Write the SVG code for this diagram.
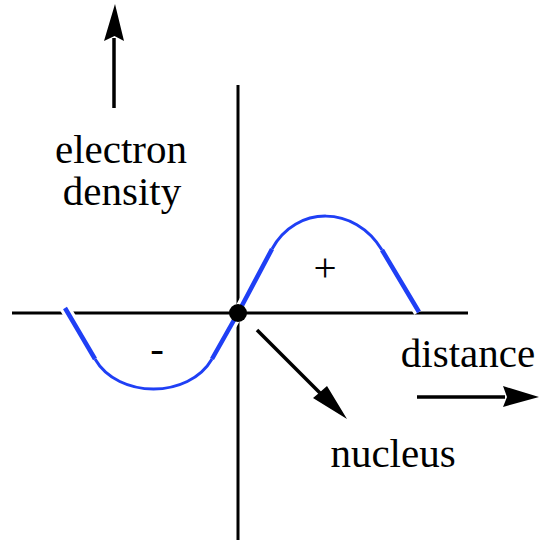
<svg xmlns="http://www.w3.org/2000/svg" width="541" height="543" viewBox="0 0 541 543">
<style>
.ax{stroke:#000;stroke-width:3;fill:none}
.halo{stroke:#fff;stroke-width:11;fill:none}
.thick{stroke:#1f3ff5;stroke-width:4.5;fill:none}
.thin{stroke:#1f3ff5;stroke-width:3;fill:none}
.arr{stroke:#000;stroke-width:3.5;fill:none}
.lbl{font-family:"Liberation Serif","Times New Roman",serif;font-size:41px;fill:#000}
</style>
<rect width="541" height="543" fill="#fff"/>
<g id="axes">
<line class="ax" x1="238" y1="85" x2="238" y2="540"/>
<line class="ax" x1="12" y1="313" x2="468" y2="313"/>
</g>
<g id="curve">
<path class="halo" d="M65,308 L95,359 M212,359 L238,313 L272,249 M382,250 L419,312"/>
<path class="thin" d="M95,359 C118,399 189,399 212,359"/>
<path class="thin" d="M272,249 C296,205 355,205 382,250"/>
<path class="thick" d="M65,308 L95,359 M212,359 L238,313 L272,249 M382,250 L419,312"/>
</g>
<g id="nucleus-dot">
<circle cx="238" cy="313" r="9" fill="#000"/>
</g>
<g id="connectors">
<line class="arr" x1="114" y1="108" x2="114" y2="38"/>
<path d="M115,4 L124,41 L114.5,36 L104,41 Z" fill="#000"/>
<line class="arr" x1="257" y1="330" x2="325" y2="398"/>
<path d="M347,419 L313,398 L319,393 L327,386 Z" fill="#000"/>
<line class="arr" x1="417" y1="397" x2="505" y2="397"/>
<path d="M539,397 L503,407 L507,397 L503,386 Z" fill="#000"/>
</g>
<g id="labels">
<text class="lbl" x="121" y="163" text-anchor="middle">electron</text>
<text class="lbl" x="122" y="205" text-anchor="middle">density</text>
<text class="lbl" x="325" y="281" text-anchor="middle">+</text>
<text class="lbl" x="157" y="362" text-anchor="middle">-</text>
<text class="lbl" x="468" y="367" text-anchor="middle">distance</text>
<text class="lbl" x="393" y="467" text-anchor="middle">nucleus</text>
</g>
</svg>
